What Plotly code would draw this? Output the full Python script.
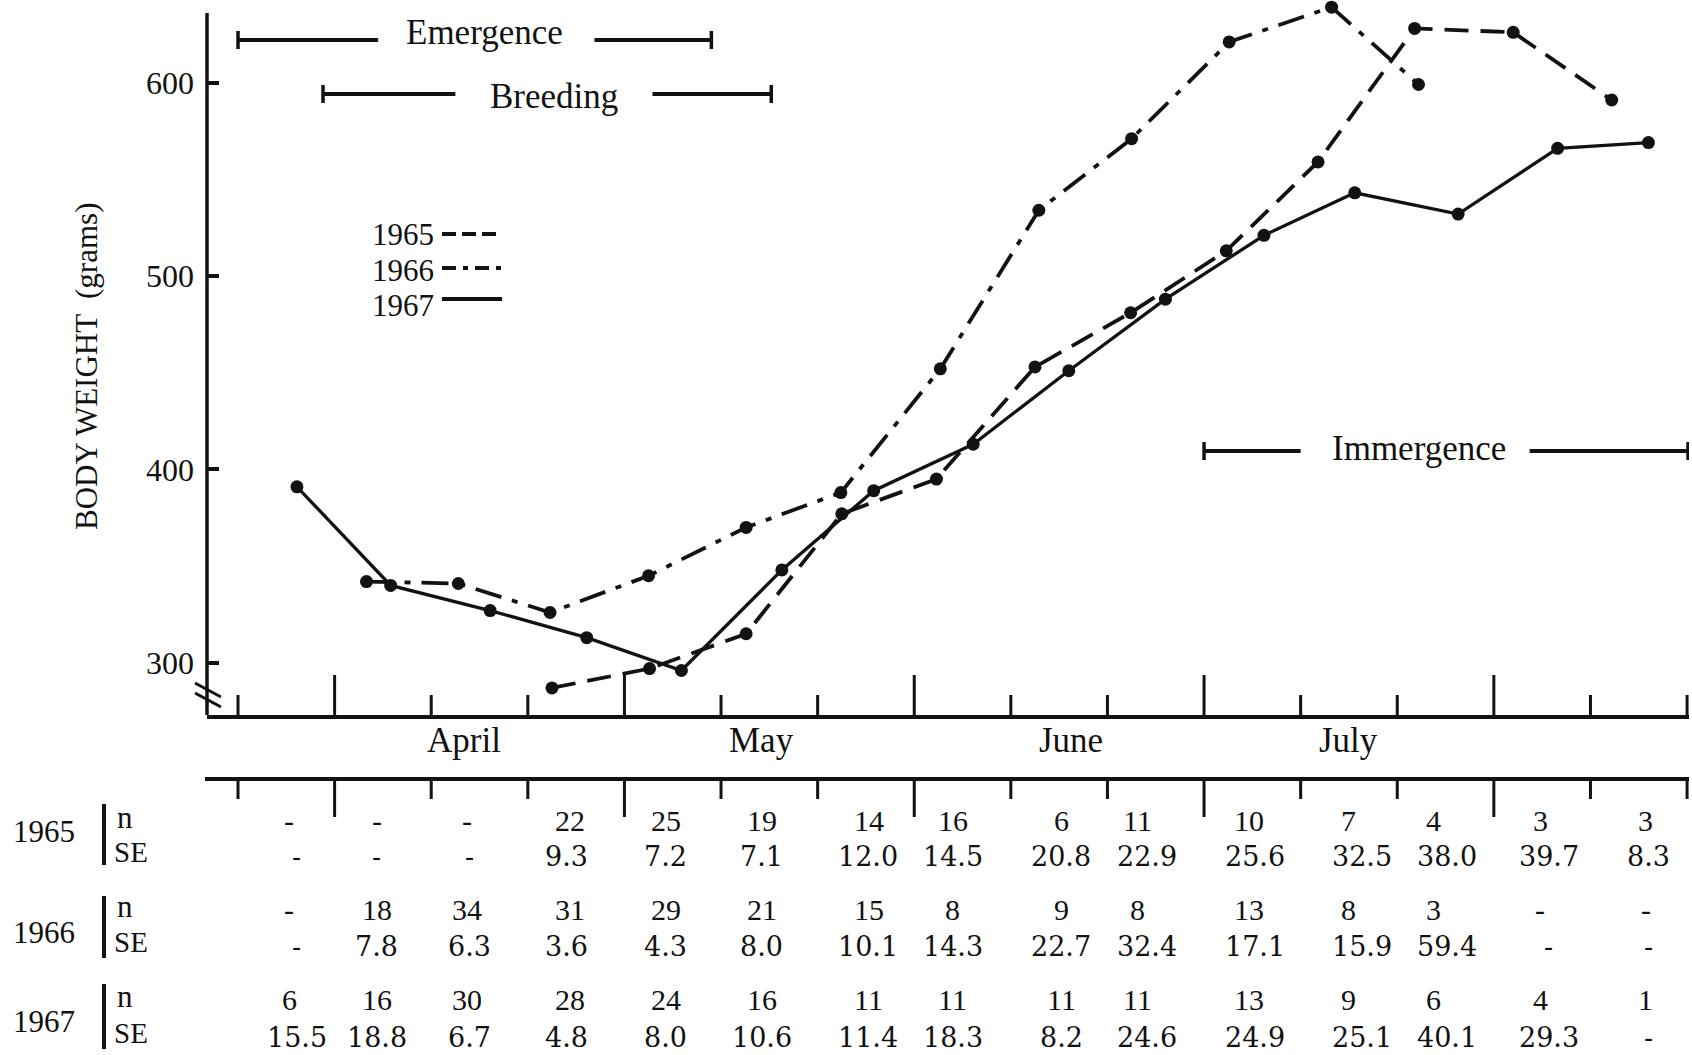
import plotly.graph_objects as go

# ---------------- data (days after 21 March; body weight in grams) ----------------
days_1965 = [32.5, 42.6, 52.6, 62.5, 72.3, 82.5, 92.4, 102.3, 111.8, 121.8, 132.0, 142.2]
wt_1965 = [287, 297, 315, 377, 395, 453, 481, 513, 559, 628, 626, 591]

days_1966 = [13.3, 22.8, 32.3, 42.5, 52.6, 62.4, 72.7, 82.9, 92.5, 102.6, 113.2, 122.2]
wt_1966 = [342, 341, 326, 345, 370, 388, 452, 534, 571, 621, 639, 599]

days_1967 = [6.1, 15.8, 26.1, 36.1, 45.9, 56.3, 65.8, 76.1, 86.0, 96.0, 106.2, 115.6, 126.3, 136.6, 146.0]
wt_1967 = [391, 340, 327, 313, 296, 348, 389, 413, 451, 488, 521, 543, 532, 566, 569]

y_ticks = [300, 400, 500, 600]
x_tick_days = list(range(0, 151, 10))
month_start_days = [10, 40, 70, 100, 130]
month_labels = ["April", "May", "June", "July"]
month_label_days = [23.4, 54.2, 86.2, 115.0]

phase_labels = ["Emergence", "Breeding", "Immergence"]
phase_start = [0, 8.8, 100]
phase_end = [49, 55.2, 150.1]

years = ["1965", "1966", "1967"]
n_1965 = ["-", "-", "-", "22", "25", "19", "14", "16", "6", "11", "10", "7", "4", "3", "3"]
se_1965 = ["-", "-", "-", "9.3", "7.2", "7.1", "12.0", "14.5", "20.8", "22.9", "25.6", "32.5", "38.0", "39.7", "8.3"]
n_1966 = ["-", "18", "34", "31", "29", "21", "15", "8", "9", "8", "13", "8", "3", "-", "-"]
se_1966 = ["-", "7.8", "6.3", "3.6", "4.3", "8.0", "10.1", "14.3", "22.7", "32.4", "17.1", "15.9", "59.4", "-", "-"]
n_1967 = ["6", "16", "30", "28", "24", "16", "11", "11", "11", "11", "13", "9", "6", "4", "1"]
se_1967 = ["15.5", "18.8", "6.7", "4.8", "8.0", "10.6", "11.4", "18.3", "8.2", "24.6", "24.9", "25.1", "40.1", "29.3", "-"]

# ---------------- layout constants ----------------
W, H = 1692, 1055
L, R, T, B = 207, 3, 0, 340
PW = W - L - R
PH = H - T - B
X_RANGE = [-3.21, 150.2]
Y_RANGE = [273.0, 642.7]
INK = "#121212"
SERIF = "Liberation Serif"
TYPE = "DejaVu Serif"

n_col_days = [5.3, 14.35, 23.7, 34.35, 44.3, 54.2, 65.3, 74.0, 85.2, 93.1, 104.7, 115.0, 123.8, 134.8, 145.7]
se_col_days = [6.1, 14.35, 24.0, 34.0, 44.2, 54.2, 65.2, 74.0, 85.2, 94.1, 105.3, 116.3, 125.2, 135.7, 146.0]


def px(xpix):
    return (xpix - L) / PW


def py(ypix):
    return (T + PH - ypix) / PH


def ypx_to_val(ypix):
    return Y_RANGE[0] + (T + PH - ypix) / PH * (Y_RANGE[1] - Y_RANGE[0])


fig = go.Figure()

series = [
    (days_1965, wt_1965, "24px,12px", 3.8),
    (days_1966, wt_1966, "27px,11px,6px,11px", 3.8),
    (days_1967, wt_1967, "solid", 3.3),
]
for (dx, wy, dash, lw), name in zip(series, years):
    fig.add_trace(go.Scatter(
        x=dx, y=wy, mode="lines+markers", name=name, showlegend=False,
        line=dict(color=INK, width=lw, dash=dash),
        marker=dict(color=INK, size=13), cliponaxis=False,
    ))

shapes = []
ann = []

# y axis line (stops near the top) and axis break marks
shapes.append(dict(type="line", xref="paper", yref="y", x0=0, x1=0,
                   y0=Y_RANGE[0], y1=ypx_to_val(13), line=dict(color=INK, width=3.5)))
for off in (0, 10):
    shapes.append(dict(type="line", xref="paper", yref="paper",
                       x0=px(195), x1=px(221), y0=py(683 + off), y1=py(697 + off),
                       line=dict(color=INK, width=3)))

# x-axis ticks (short every 10 days, tall at month starts)
for d in x_tick_days:
    ln = 40 if d in month_start_days else 20
    shapes.append(dict(type="line", xref="x", yref="paper", x0=d, x1=d,
                       y0=0, y1=ln / PH, line=dict(color=INK, width=3)))

# table axis line with hanging ticks
TAB_Y = 779
shapes.append(dict(type="line", xref="paper", yref="paper", x0=px(205), x1=1.0,
                   y0=py(TAB_Y), y1=py(TAB_Y), line=dict(color=INK, width=4)))
for d in x_tick_days:
    ln = 38 if d in month_start_days else 20
    shapes.append(dict(type="line", xref="x", yref="paper", x0=d, x1=d,
                       y0=py(TAB_Y), y1=py(TAB_Y + ln), line=dict(color=INK, width=3)))

# month labels
for d, lab in zip(month_label_days, month_labels):
    ann.append(dict(x=d, y=py(740), xref="x", yref="paper", text=lab, showarrow=False,
                    font=dict(family=SERIF, size=35, color=INK), xanchor="center", yanchor="middle"))

# phase bars
phase_y_px = [40, 94, 451]
phase_text_dy = [-7, 2, -3]
phase_gap = [(14.5, 36.9), (22.5, 42.9), (110.0, 133.7)]
phase_text_day = [25.5, 32.7, 122.2]
for lab, s, e, ypix, dy, (g0, g1), td in zip(phase_labels, phase_start, phase_end,
                                             phase_y_px, phase_text_dy, phase_gap, phase_text_day):
    yv = ypx_to_val(ypix)
    for a, b in ((s, g0), (g1, e)):
        shapes.append(dict(type="line", xref="x", yref="y", x0=a, x1=b, y0=yv, y1=yv,
                           line=dict(color=INK, width=4)))
    for c in (s, e):
        shapes.append(dict(type="line", xref="x", yref="paper", x0=c, x1=c,
                           y0=py(ypix - 9), y1=py(ypix + 9), line=dict(color=INK, width=3.5)))
    ann.append(dict(x=td, y=py(ypix + dy), xref="x", yref="paper", text=lab, showarrow=False,
                    font=dict(family=SERIF, size=35, color=INK), xanchor="center", yanchor="middle"))

# legend (text then line sample)
leg_text_y = [235, 271, 305]
leg_line_y = [234, 268, 299]
leg_dash = ["14px,6px", "14px,7px,5px,7px", "solid"]
for yr, ty, ly, dsh in zip(years, leg_text_y, leg_line_y, leg_dash):
    ann.append(dict(x=px(436), y=py(ty), xref="paper", yref="paper", text=yr, showarrow=False,
                    font=dict(family=SERIF, size=31, color=INK), xanchor="right", yanchor="middle"))
    shapes.append(dict(type="line", xref="paper", yref="paper", x0=px(442), x1=px(502),
                       y0=py(ly), y1=py(ly), line=dict(color=INK, width=4, dash=dsh)))

# y axis title
ann.append(dict(x=px(86), y=py(367), xref="paper", yref="paper", text="BODY WEIGHT  (grams)",
                textangle=-90, showarrow=False, font=dict(family=SERIF, size=31, color=INK),
                xanchor="center", yanchor="middle"))

# table
row_n_y = [820, 909, 999]
row_se_y = [856, 946, 1037]
year_y = [831, 932, 1021]
bar_span = [(804, 865), (896, 958), (984, 1049)]
n_rows = [n_1965, n_1966, n_1967]
se_rows = [se_1965, se_1966, se_1967]
for yr, ny, sy, yy, (b0, b1), nr, sr in zip(years, row_n_y, row_se_y, year_y, bar_span, n_rows, se_rows):
    ann.append(dict(x=px(44), y=py(yy), xref="paper", yref="paper", text=yr, showarrow=False,
                    font=dict(family=SERIF, size=31, color=INK), xanchor="center", yanchor="middle"))
    shapes.append(dict(type="line", xref="paper", yref="paper", x0=px(104), x1=px(104),
                       y0=py(b0), y1=py(b1), line=dict(color=INK, width=4)))
    ann.append(dict(x=px(115), y=py(ny - 3), xref="paper", yref="paper", text="n", showarrow=False,
                    font=dict(family=SERIF, size=31, color=INK), xanchor="left", yanchor="middle"))
    ann.append(dict(x=px(112), y=py(sy - 4), xref="paper", yref="paper", text="SE", showarrow=False,
                    font=dict(family=SERIF, size=29, color=INK), xanchor="left", yanchor="middle"))
    for d, t in zip(n_col_days, nr):
        ann.append(dict(x=d, y=py(ny), xref="x", yref="paper", text=t, showarrow=False,
                        font=dict(family=SERIF, size=30, color=INK), xanchor="center", yanchor="middle"))
    for d, t in zip(se_col_days, sr):
        ann.append(dict(x=d, y=py(sy), xref="x", yref="paper", text=t, showarrow=False,
                        font=dict(family=TYPE, size=27, color=INK), xanchor="center", yanchor="middle"))

fig.update_layout(
    width=W, height=H, autosize=False,
    margin=dict(l=L, r=R, t=T, b=B, pad=0),
    paper_bgcolor="white", plot_bgcolor="white",
    showlegend=False,
    shapes=shapes, annotations=ann,
    xaxis=dict(range=X_RANGE, showline=True, linewidth=4, linecolor=INK, ticks="",
               showticklabels=False, showgrid=False, zeroline=False, fixedrange=True),
    yaxis=dict(range=Y_RANGE, tickvals=y_ticks, ticks="inside", ticklen=12, tickwidth=4,
               tickcolor=INK, showline=False, showgrid=False, zeroline=False,
               tickfont=dict(family=SERIF, size=32, color=INK), ticklabelstandoff=12,
               fixedrange=True),
)

fig.write_html("out.html", config={"displayModeBar": False},
               post_script="document.body.style.margin='0px';")
